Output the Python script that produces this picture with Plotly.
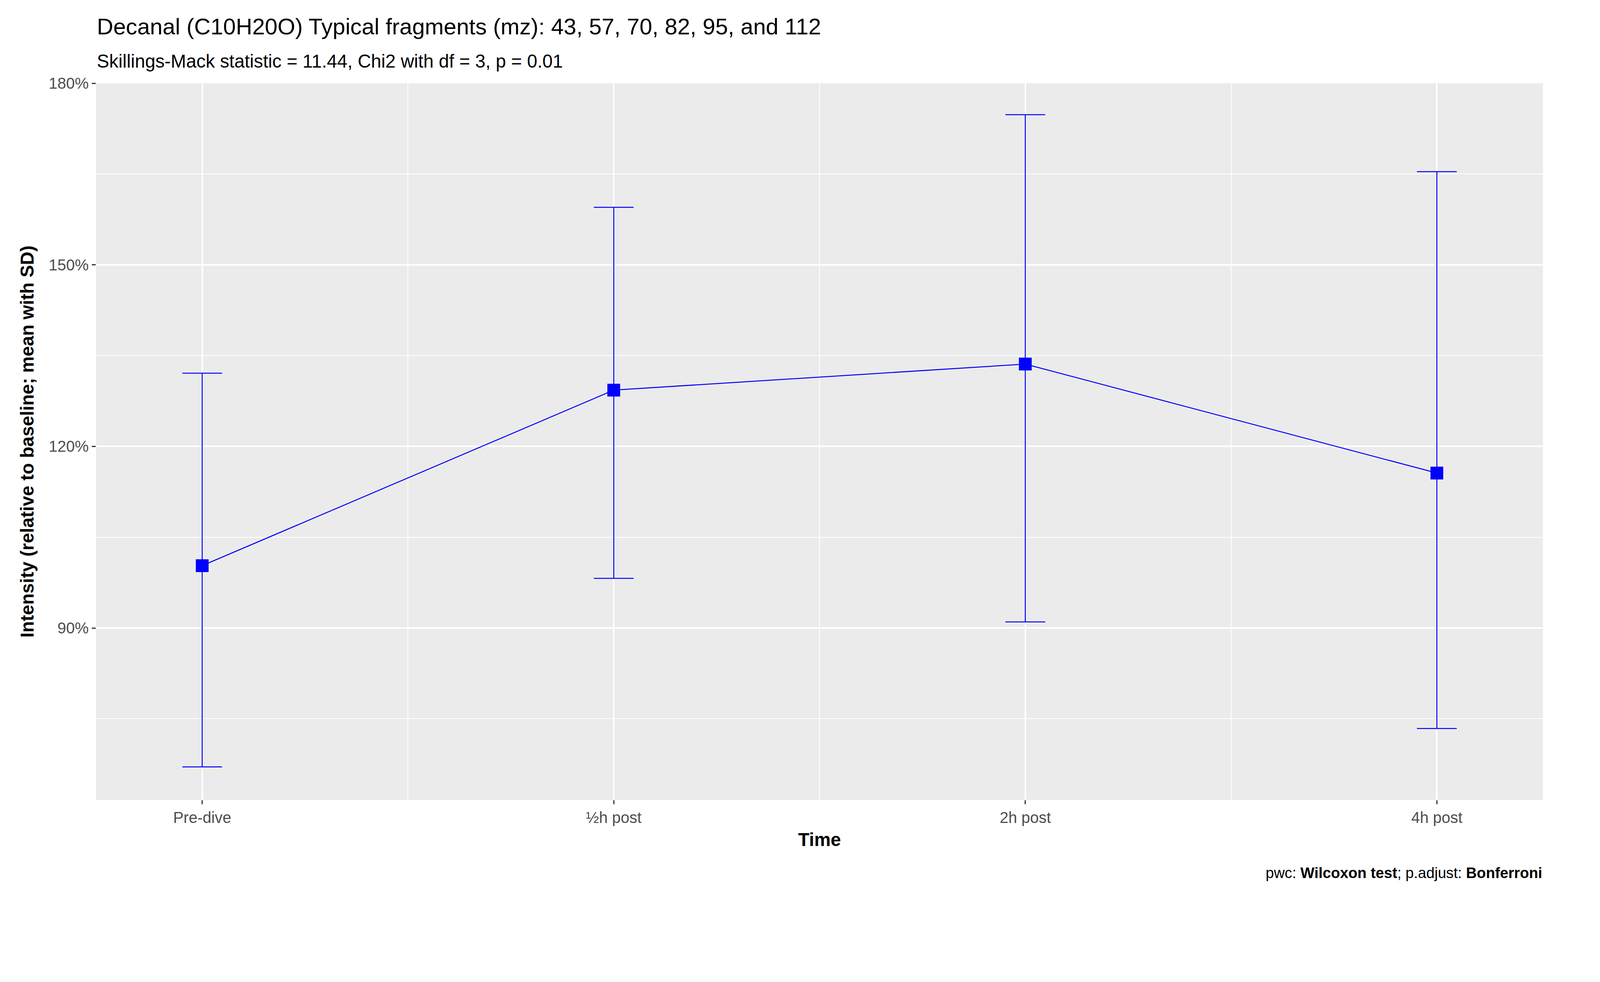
import plotly.graph_objects as go

categories = ["Pre-dive", "½h post", "2h post", "4h post"]
means = [100.3, 129.3, 133.6, 115.6]
upper = [132.1, 159.5, 174.8, 165.4]
lower = [67.05, 98.2, 91.0, 73.4]
yticks = [90, 120, 150, 180]

xs = list(range(1, len(categories) + 1))
err_plus = [u - m for u, m in zip(upper, means)]
err_minus = [m - l for m, l in zip(means, lower)]

S = 1 / 1.1  # page appears rendered at ~1.1x device scale
def p(v):
    return v * S

fig = go.Figure(go.Scatter(
    x=xs, y=means, mode="lines+markers",
    line=dict(color="#0000FF", width=p(2.8)),
    marker=dict(symbol="square", size=p(36), color="#0000FF"),
    error_y=dict(type="data", symmetric=False, array=err_plus, arrayminus=err_minus,
                 color="#0000FF", thickness=p(2.8), width=p(56)),
))

W, H = 4378, 2513
fig.update_layout(
    width=round(W * S), height=round(H * S), showlegend=False,
    paper_bgcolor="white", plot_bgcolor="#EBEBEB",
    margin=dict(l=p(262), r=p(42), t=p(226), b=p(271)),
    font=dict(family="Liberation Sans, Arial", color="#000000"),
    annotations=[
        dict(text="Decanal (C10H20O) Typical fragments (mz): 43, 57, 70, 82, 95, and 112",
             xref="paper", yref="paper", x=0, y=1, yshift=p(160), xanchor="left", yanchor="middle",
             showarrow=False, font=dict(size=p(64))),
        dict(text="Skillings-Mack statistic = 11.44, Chi2 with df = 3, p = 0.01",
             xref="paper", yref="paper", x=0, y=1, yshift=p(62), xanchor="left", yanchor="middle",
             showarrow=False, font=dict(size=p(52))),
        dict(text="pwc: <b>Wilcoxon test</b>; p.adjust: <b>Bonferroni</b>",
             xref="paper", yref="paper", x=1, y=0, yshift=-p(205), xanchor="right", yanchor="middle",
             showarrow=False, font=dict(size=p(42))),
    ],
    xaxis=dict(
        range=[1 - 107 / 415, 4 + 107 / 415], tickmode="array", tickvals=xs, ticktext=categories,
        showgrid=True, gridcolor="white", gridwidth=p(4), zeroline=False,
        ticks="outside", ticklen=p(11), tickwidth=p(3), tickcolor="#333333",
        tickfont=dict(size=p(44), color="#4D4D4D"),
        minor=dict(tickvals=[1.5, 2.5, 3.5], showgrid=True, gridcolor="white", gridwidth=p(2), ticks=""),
        title=dict(text="<b>Time</b>", font=dict(size=p(52)), standoff=p(20)),
    ),
    yaxis=dict(
        range=[61.6, 180], tickmode="array", tickvals=yticks, ticktext=[f"{v}%" for v in yticks],
        showgrid=True, gridcolor="white", gridwidth=p(4), zeroline=False,
        ticks="outside", ticklen=p(11), tickwidth=p(3), tickcolor="#333333",
        tickfont=dict(size=p(44), color="#4D4D4D"),
        minor=dict(tickvals=[75, 105, 135, 165], showgrid=True, gridcolor="white", gridwidth=p(2), ticks=""),
        title=dict(text="<b>Intensity (relative to baseline; mean with SD)</b>", font=dict(size=p(52)), standoff=p(25)),
    ),
)
fig.write_html("out.html")
